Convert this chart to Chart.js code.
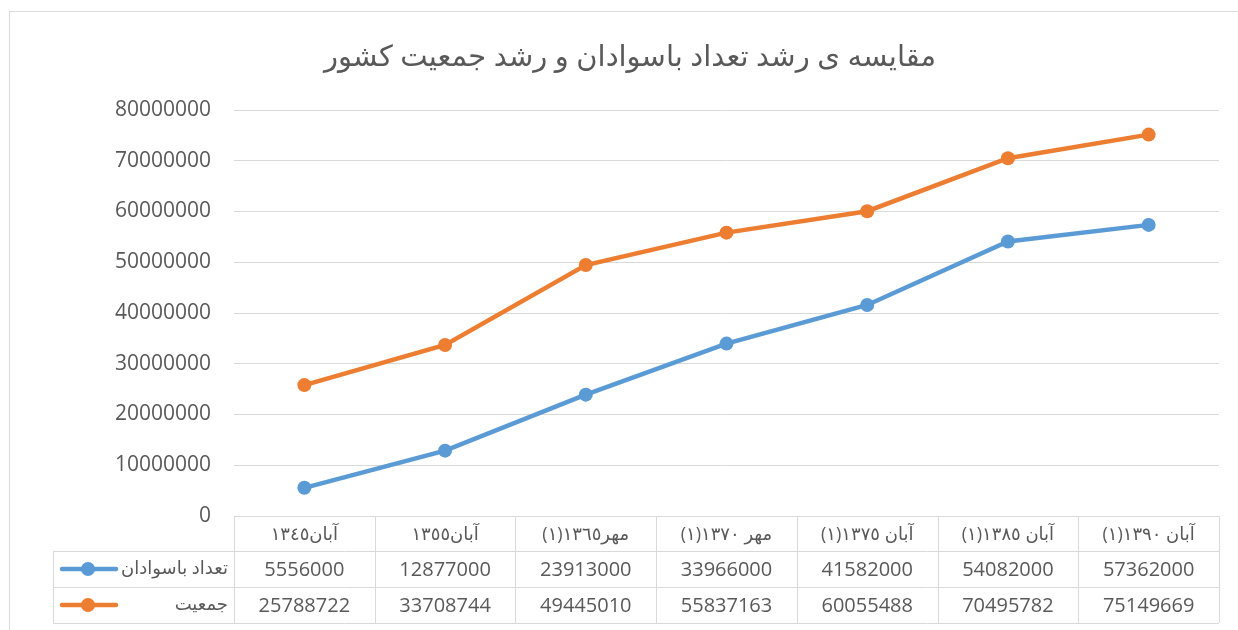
<!DOCTYPE html>
<html>
<head>
<meta charset="utf-8">
<script src="https://cdn.jsdelivr.net/npm/chart.js@4.4.1/dist/chart.umd.min.js"></script>
<style>
    html, body { margin: 0; padding: 0; background: #fff; }
</style>
</head>
<body>
<canvas id="myChart" width="1238" height="630"></canvas>
<script>
// categories (census dates)
const categories = ['آبان١٣٤٥', 'آبان١٣٥٥', 'مهر١٣٦٥(١)', 'مهر ١٣٧٠(١)', 'آبان ١٣٧٥(١)', 'آبان ١٣٨٥(١)', 'آبان ١٣٩٠(١)'];
const seriesNames = ['تعداد باسوادان', 'جمعیت'];
const literate = [5556000, 12877000, 23913000, 33966000, 41582000, 54082000, 57362000];
const population = [25788722, 33708744, 49445010, 55837163, 60055488, 70495782, 75149669];
const yMin = 0;
const yMax = 80000000;
const yStep = 10000000;

const titleText = 'مقایسه ی رشد تعداد باسوادان و رشد جمعیت کشور';
const blue = '#5B9BD5';
const orange = '#ED7D31';
const gridColor = '#D9D9D9';
const textColor = '#595959';
const fontFamily = "'Open Sans', 'DejaVu Sans', sans-serif";

// data table drawn under the plot, like the excel chart
const dataTablePlugin = {
    id: 'dataTable',
    afterDraw(chart) {
        const ctx = chart.ctx;
        const area = chart.chartArea;
        const xs = chart.scales.x;
        const colW = (area.right - area.left) / categories.length;
        const top = area.bottom;
        const headH = 35, rowH = 36;
        const legendLeft = 53;
        const rows = [literate, population];
        const colors = [blue, orange];

        ctx.save();
        // outer chart border
        ctx.strokeStyle = gridColor;
        ctx.lineWidth = 1;
        ctx.strokeRect(9.5, 11.5, 1300, 700);

        // table lines
        ctx.beginPath();
        ctx.moveTo(area.left, top + 0.5);
        ctx.lineTo(area.right, top + 0.5);
        for (let r = 0; r <= rows.length; r++) {
            const y = Math.round(top + headH + r * rowH) + 0.5;
            ctx.moveTo(legendLeft, y);
            ctx.lineTo(area.right, y);
        }
        const bottom = top + headH + rows.length * rowH;
        ctx.moveTo(legendLeft + 0.5, top + headH);
        ctx.lineTo(legendLeft + 0.5, bottom);
        for (let i = 0; i <= categories.length; i++) {
            const x = Math.round(area.left + i * colW) + 0.5;
            ctx.moveTo(x, top);
            ctx.lineTo(x, bottom);
        }
        ctx.stroke();

        // header labels
        ctx.fillStyle = textColor;
        ctx.textAlign = 'center';
        ctx.textBaseline = 'middle';
        ctx.direction = 'rtl';
        ctx.font = '18px ' + fontFamily;
        categories.forEach((c, i) => {
            ctx.fillText(c, xs.getPixelForValue(i), top + headH / 2 + 1);
        });

        // values
        ctx.direction = 'ltr';
        ctx.font = '20px ' + fontFamily;
        rows.forEach((vals, r) => {
            const y = top + headH + r * rowH + rowH / 2;
            vals.forEach((v, i) => {
                ctx.fillText(String(v), xs.getPixelForValue(i), y + 1);
            });
            // legend key
            ctx.strokeStyle = colors[r];
            ctx.lineWidth = 4.5;
            ctx.lineCap = 'round';
            ctx.beginPath();
            ctx.moveTo(62, y);
            ctx.lineTo(116, y);
            ctx.stroke();
            ctx.fillStyle = colors[r];
            ctx.beginPath();
            ctx.arc(88, y, 7, 0, Math.PI * 2);
            ctx.fill();
            ctx.fillStyle = textColor;
            ctx.direction = 'rtl';
            ctx.textAlign = 'right';
            ctx.font = '18px ' + fontFamily;
            ctx.fillText(seriesNames[r], 228, y);
            ctx.direction = 'ltr';
            ctx.textAlign = 'center';
            ctx.font = '20px ' + fontFamily;
        });
        ctx.restore();
    }
};

let ctx = document.getElementById('myChart');

let myChart = new Chart(ctx, {
    type: 'line',
    data: {
        labels: categories,
        datasets: [{
            label: seriesNames[0],
            data: literate,
            borderColor: blue,
            backgroundColor: blue,
            borderWidth: 4.5,
            pointRadius: 7,
            pointBorderWidth: 0,
            tension: 0
        }, {
            label: seriesNames[1],
            data: population,
            borderColor: orange,
            backgroundColor: orange,
            borderWidth: 4.5,
            pointRadius: 7,
            pointBorderWidth: 0,
            tension: 0
        }]
    },
    options: {
        responsive: false,
        animation: false,
        layout: {
            padding: { left: 41, right: 19, top: 0, bottom: 114 }
        },
        scales: {
            x: {
                display: false,
                offset: true
            },
            y: {
                min: yMin,
                max: yMax,
                afterFit(scale) { scale.width = 193; },
                border: { display: false },
                grid: { color: gridColor, drawTicks: false },
                ticks: {
                    stepSize: yStep,
                    padding: 23,
                    color: textColor,
                    font: { size: 21, family: fontFamily },
                    callback: (v) => String(v)
                }
            }
        },
        plugins: {
            legend: { display: false },
            tooltip: { enabled: false },
            title: {
                display: true,
                text: titleText,
                color: textColor,
                font: { size: 29, weight: 'normal', family: fontFamily },
                padding: { top: 40, bottom: 35.2 }
            }
        }
    },
    plugins: [dataTablePlugin]
});
</script>
</body>
</html>
